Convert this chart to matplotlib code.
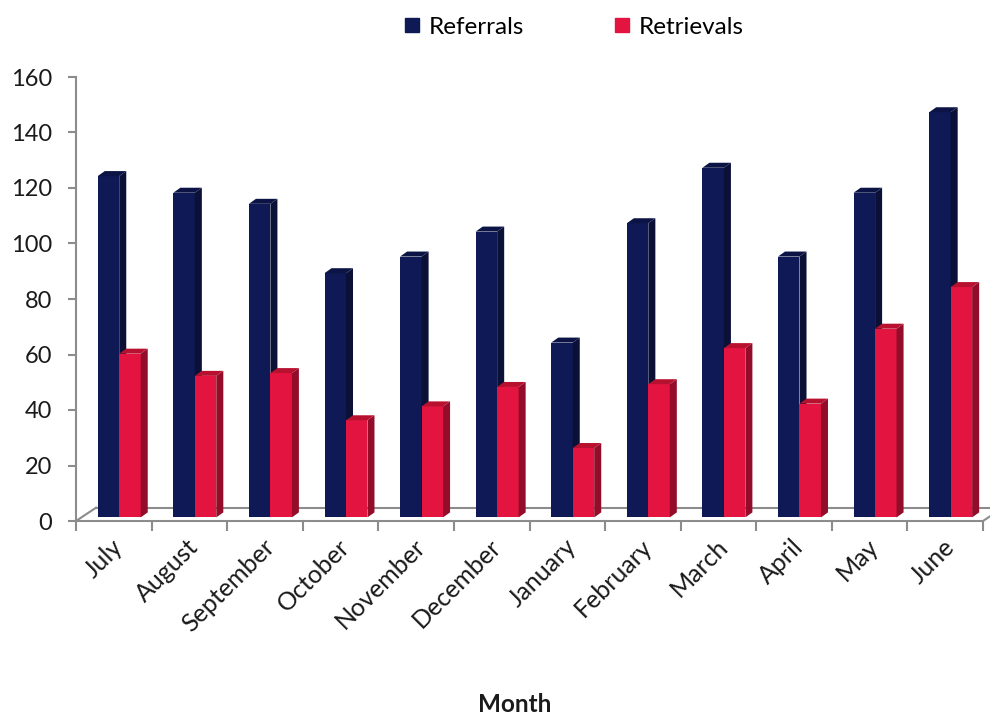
"""
Referrals vs retrievals per month — Excel-style 3D clustered column chart.
"""
import numpy as np
import matplotlib

matplotlib.use("Agg")
import matplotlib.pyplot as plt
from matplotlib.patches import Polygon
from matplotlib.lines import Line2D
import matplotlib.transforms as mtransforms

plt.rcParams["font.family"] = ["Lato", "DejaVu Sans"]

MONTHS = ["July", "August", "September", "October", "November", "December",
          "January", "February", "March", "April", "May", "June"]
REFERRALS = [123, 117, 113, 88, 94, 103, 63, 106, 126, 94, 117, 146]
RETRIEVALS = [59, 51, 52, 35, 40, 47, 25, 48, 61, 41, 68, 83]

C_REF, C_REF_SIDE, C_REF_TOP = "#0E1955", "#0A1036", "#0B1445"
C_RET, C_RET_SIDE, C_RET_TOP = "#E31540", "#930C2A", "#B8102F"
AXIS_GRAY = "#8C8C8C"

# 3D look (data units): bar depth offset and floor depth
DX, DY = 0.093, 1.8
LIFT = 1.3
FLOOR_DX, FLOOR_DY = 0.265, 4.8
BAR_W = 0.284
REF_X0 = 0.288


def draw_bar(ax, x0, v, front, side, top):
    b, t, x1 = LIFT, LIFT + v, x0 + BAR_W
    ax.add_patch(Polygon([(x0, b), (x1, b), (x1, t), (x0, t)],
                         closed=True, fc=front, ec="none", zorder=3))
    ax.add_patch(Polygon([(x1, b), (x1 + DX, b + DY), (x1 + DX, t + DY), (x1, t)],
                         closed=True, fc=side, ec="none", zorder=3))
    ax.add_patch(Polygon([(x0, t), (x0 + DX, t + DY), (x1 + DX, t + DY), (x1, t)],
                         closed=True, fc=top, ec="none", zorder=3))


fig = plt.figure(figsize=(9.9, 7.15), dpi=100)
ax = fig.add_axes([76 / 990, 1 - 521 / 715, (983 - 76) / 990, (521 - 77) / 715])
n = len(MONTHS)
ax.set_xlim(0, n)
ax.set_ylim(0, 160)

# floor (back edge + side diagonals)
kw = dict(color=AXIS_GRAY, lw=1.5, clip_on=False, zorder=1)
ax.plot([0, FLOOR_DX], [0, FLOOR_DY], **kw)
ax.plot([FLOOR_DX, n + FLOOR_DX], [FLOOR_DY, FLOOR_DY], **kw)
ax.plot([n, n + FLOOR_DX], [0, FLOOR_DY], **kw)

for i in range(n):
    draw_bar(ax, i + REF_X0, REFERRALS[i], C_REF, C_REF_SIDE, C_REF_TOP)
for i in range(n):
    draw_bar(ax, i + REF_X0 + BAR_W, RETRIEVALS[i], C_RET, C_RET_SIDE, C_RET_TOP)

for s in ("top", "right"):
    ax.spines[s].set_visible(False)
for s in ("left", "bottom"):
    ax.spines[s].set_color(AXIS_GRAY)
    ax.spines[s].set_linewidth(1.5)

ax.set_yticks(np.arange(0, 161, 20))
ax.tick_params(axis="y", length=6, width=1.5, color=AXIS_GRAY, pad=11,
               labelsize=17, labelcolor="#1A1A1A")

ax.set_xticks(np.arange(n + 1), minor=True)
ax.tick_params(axis="x", which="minor", length=7, width=1.5, color=AXIS_GRAY)
ax.set_xticks(np.arange(n) + 0.5)
ax.set_xticklabels(MONTHS, rotation=45, ha="right", rotation_mode="anchor")
ax.tick_params(axis="x", which="major", length=0, pad=10,
               labelsize=18, labelcolor="#1A1A1A")
off = mtransforms.ScaledTranslation(-2 / 72, 0, fig.dpi_scale_trans)
for lab in ax.get_xticklabels():
    lab.set_transform(lab.get_transform() + off)

handles = [Line2D([], [], ls="none", marker="s", ms=10.5, mfc=C_REF, mec=C_REF),
           Line2D([], [], ls="none", marker="s", ms=10.5, mfc=C_RET, mec=C_RET)]
fig.legend(handles, ["Referrals", "Retrievals"], loc="center",
           bbox_to_anchor=(573 / 990, 1 - 27 / 715), ncol=2, frameon=False,
           fontsize=17.5, handlelength=0.8, handletextpad=0.3, columnspacing=3.6)

fig.text(515 / 990, 1 - 704 / 715, "Month", ha="center", va="center",
         fontsize=17.5, fontweight="bold", color="#1A1A1A")

fig.savefig("out.png", dpi=100)
